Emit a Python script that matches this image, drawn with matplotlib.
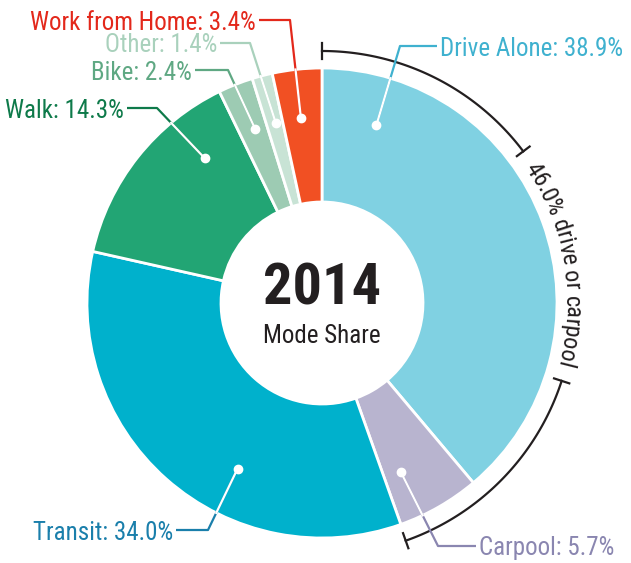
import numpy as np
import matplotlib
matplotlib.use('Agg')
import matplotlib.pyplot as plt
from matplotlib import font_manager as fm
from matplotlib.textpath import TextToPath

# datos
modos = ['Drive Alone', 'Carpool', 'Transit', 'Walk', 'Bike', 'Other', 'Work from Home']
valores = [38.9, 5.7, 34.0, 14.3, 2.4, 1.4, 3.4]
colores = ['#80d1e2', '#b8b4cf', '#00b1cc', '#22a574', '#9dcbb3', '#c8e3d5', '#f15023']
colores_txt = ['#3fb1cf', '#8a86b0', '#1a7fab', '#0e7a4a', '#5fa883', '#a9d1bc', '#e3281b']
titulo = '2014'
subtitulo = 'Mode Share'
texto_arco = '46.0% drive or carpool'


def elegir_fuente(nombres):
    for n in nombres:
        try:
            fm.findfont(n, fallback_to_default=False)
            return n
        except ValueError:
            pass
    return 'DejaVu Sans'


FUENTE = elegir_fuente(['Liberation Sans Narrow', 'Roboto Condensed', 'Liberation Sans'])

W, H = 631, 563


def py(y):
    # de pixeles (desde arriba) a coordenadas del eje
    return H - y


cx, cy = 322, py(303)
R = 235
r_in = 101

fig = plt.figure(figsize=(W / 100, H / 100), dpi=100)
ax = fig.add_axes([0, 0, 1, 1])

ax.pie(valores, colors=colores, startangle=90, counterclock=False,
       center=(cx, cy), radius=R,
       wedgeprops=dict(width=R - r_in, edgecolor='white', linewidth=2))
# pie cambia los limites, se ponen despues
ax.set_xlim(0, W)
ax.set_ylim(0, H)
ax.set_aspect('equal')
ax.axis('off')

# texto central
ax.text(cx, py(289), titulo, ha='center', va='center', fontsize=42,
        fontweight='bold', family=FUENTE, color='#231f20')
ax.text(cx, py(336), subtitulo, ha='center', va='center', fontsize=18,
        family=FUENTE, color='#231f20')

# etiquetas: angulo del punto, codo, x del texto y lado
ang_punto = [17, 155, 207, 321, 339, 345.6, 353.5]
codos = [(400, 46), (438, 546), (208, 530), (157, 108), (228, 70), (250, 43), (290, 20)]
x_texto = [440, 479, 173, 124, 192, 217, 256]
lado = ['left', 'left', 'right', 'right', 'right', 'right', 'right']
r_punto = 186


def corte_circulo(p0, p1, rad):
    # punto donde el segmento p0->p1 cruza el circulo de radio rad
    d = np.array(p1) - np.array(p0)
    f = np.array(p0) - np.array([cx, cy])
    a = d @ d
    b = 2 * f @ d
    c = f @ f - rad ** 2
    t = (-b + np.sqrt(b * b - 4 * a * c)) / (2 * a)
    t = min(max(t, 0), 1)
    return np.array(p0) + t * d


for i, m in enumerate(modos):
    th = np.radians(ang_punto[i])
    px, pyy = cx + r_punto * np.sin(th), cy + r_punto * np.cos(th)
    ex, ey = codos[i][0], py(codos[i][1])
    tx = x_texto[i]
    gap = 3 if lado[i] == 'left' else -3
    ax.plot([px, ex, tx - gap], [pyy, ey, ey], color=colores_txt[i], lw=1.6,
            solid_capstyle='butt', zorder=3)
    q = corte_circulo((px, pyy), (ex, ey), R)
    ax.plot([px, q[0]], [pyy, q[1]], color='white', lw=1.6, zorder=4)
    ax.plot(px, pyy, 'o', color='white', ms=6, zorder=5)
    etiqueta = '%s: %.1f%%' % (m, valores[i])
    ax.text(tx, ey, etiqueta, ha=lado[i], va='center_baseline', fontsize=18,
            family=FUENTE, color=colores_txt[i], zorder=5)

# corchete del 46%
r_arco = 252
tramos = [(0, 53), (108, 160.6)]
for a0, a1 in tramos:
    t = np.radians(np.linspace(a0, a1, 100))
    ax.plot(cx + r_arco * np.sin(t), cy + r_arco * np.cos(t), color='#231f20', lw=1.6)
    for a in (a0, a1):
        t = np.radians(a)
        rr = np.array([r_arco - 8, r_arco + 8])
        ax.plot(cx + rr * np.sin(t), cy + rr * np.cos(t), color='#231f20', lw=1.6)

# texto curvo
tam = 17.5
fp = fm.FontProperties(family=FUENTE, size=tam)
ttp = TextToPath()
anchos = [ttp.get_text_width_height_descent(ch, fp, ismath=False)[0] * 100 / 72
          for ch in texto_arco]
total = sum(anchos)
centro = np.radians(80.5)
inicio = centro - (total / 2) / r_arco
s = 0
r_base = r_arco - 0.36 * tam * 100 / 72
for ch, w in zip(texto_arco, anchos):
    th = inicio + (s + w / 2) / r_arco
    ax.text(cx + r_base * np.sin(th), cy + r_base * np.cos(th), ch,
            rotation=-np.degrees(th), rotation_mode='anchor',
            ha='center', va='baseline', fontsize=tam, family=FUENTE, color='#231f20')
    s += w

fig.savefig('out.png', dpi=100)
